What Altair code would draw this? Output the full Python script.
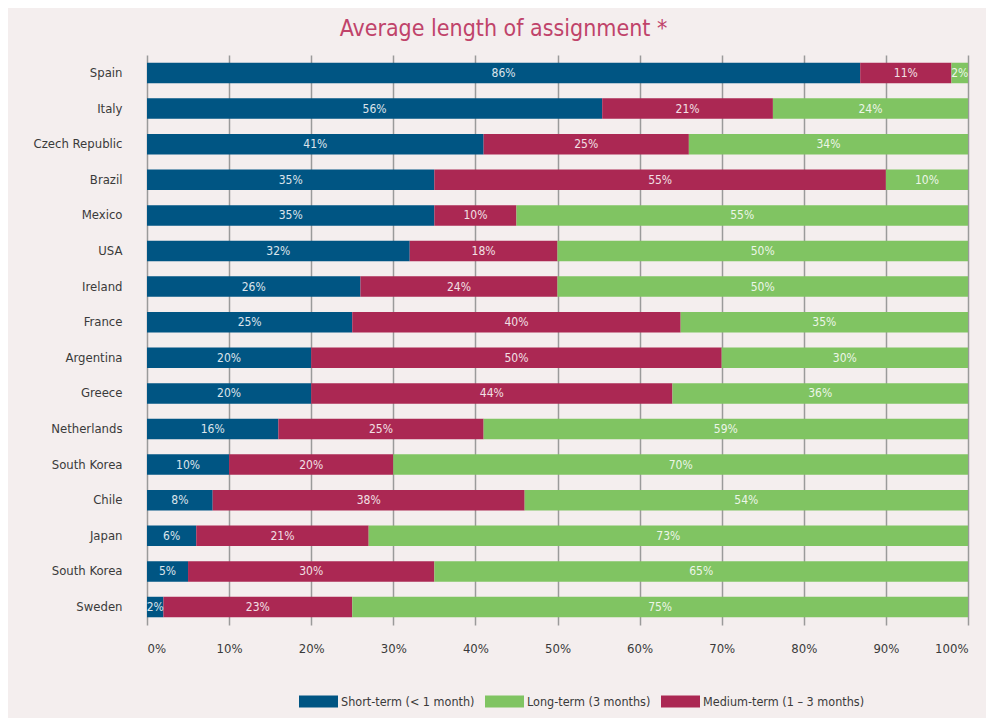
import altair as alt
import pandas as pd

countries = ["Spain", "Italy", "Czech Republic", "Brazil", "Mexico", "USA", "Ireland",
             "France", "Argentina", "Greece", "Netherlands", "South Korea", "Chile",
             "Japan", "South Korea", "Sweden"]
short_term = [86, 56, 41, 35, 35, 32, 26, 25, 20, 20, 16, 10, 8, 6, 5, 2]
medium_term = [11, 21, 25, 55, 10, 18, 24, 40, 50, 44, 25, 20, 38, 21, 30, 23]
long_term = [2, 24, 34, 10, 55, 50, 50, 35, 30, 36, 59, 70, 54, 73, 65, 75]

series_names = ["Short-term (< 1 month)", "Medium-term (1 – 3 months)", "Long-term (3 months)"]
legend_order = ["Short-term (< 1 month)", "Long-term (3 months)", "Medium-term (1 – 3 months)"]
legend_colors = ["#005583", "#80c462", "#ab2853"]
x_ticks = [0, 0.1, 0.2, 0.3, 0.4, 0.5, 0.6, 0.7, 0.8, 0.9, 1.0]

rows = []
for i, c in enumerate(countries):
    for k, (name, vals) in enumerate(zip(series_names, [short_term, medium_term, long_term])):
        rows.append({"idx": i, "country": c, "series": name, "value": vals[i], "order": k})
df = pd.DataFrame(rows)

FONT = "'Liberation Sans Narrow', 'DejaVu Sans Condensed', Lato"
label_expr = "[" + ",".join("'" + c + "'" for c in countries) + "][datum.value]"

y_enc = alt.Y(
    "idx:O",
    title=None,
    scale=alt.Scale(paddingInner=0.424, paddingOuter=0.217),
    axis=alt.Axis(labelExpr=label_expr, ticks=False, domain=False, labelPadding=25,
                  labelFontSize=13, labelColor="#3a3a3a", labelFont=FONT),
)

bars = alt.Chart(df).mark_bar().encode(
    y=y_enc,
    x=alt.X("value:Q", stack="normalize", title=None,
            axis=alt.Axis(values=x_ticks, format=".0%", grid=True, gridColor="#9a9a9a",
                          gridWidth=1.5, ticks=False, domain=False, labelPadding=17,
                          labelFontSize=13, labelColor="#3a3a3a", labelFont=FONT)),
    color=alt.Color("series:N", scale=alt.Scale(domain=legend_order, range=legend_colors),
                    legend=alt.Legend(title=None, orient="none", legendX=152, legendY=627,
                                      direction="horizontal", columns=3,
                                      symbolType="M-1,-0.31H1V0.31H-1Z", symbolSize=1521,
                                      symbolStrokeWidth=0, labelFontSize=12.5,
                                      labelColor="#3a3a3a", labelFont=FONT, labelLimit=400,
                                      labelOffset=3, columnPadding=10)),
    order=alt.Order("order:Q"),
)

labels = alt.Chart(df).transform_joinaggregate(
    total="sum(value)", groupby=["idx"]
).transform_window(
    cum="sum(value)", sort=[alt.SortField("order")], groupby=["idx"]
).transform_calculate(
    mid="(datum.cum - datum.value/2)/datum.total",
    label="datum.value + '%'",
).mark_text(color="white", opacity=0.85, fontSize=12, font=FONT).encode(
    y=alt.Y("idx:O"),
    x=alt.X("mid:Q"),
    text="label:N",
)

chart = alt.layer(bars, labels).properties(
    width=821,
    height=570,
    title=alt.TitleParams("Average length of assignment *", fontSize=23, color="#c0436a",
                          font=FONT, fontWeight="normal", anchor="middle", dx=-54, offset=14),
    autosize=alt.AutoSizeParams(type="none"),
    padding={"left": 139, "top": 47, "right": 18, "bottom": 93},
    background="#f4eeee",
).configure_view(stroke=None)

chart.save("out.html", embed_options={"renderer": "svg", "actions": False})
